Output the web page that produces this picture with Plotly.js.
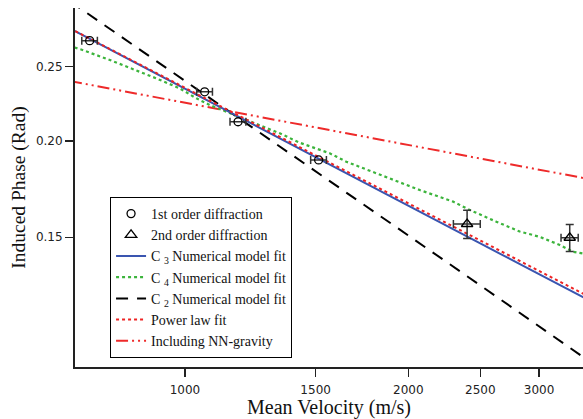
<!DOCTYPE html>
<html>
<head>
<meta charset="utf-8">
<script src="https://cdn.plot.ly/plotly-3.0.1.min.js"></script>
<style>html,body{margin:0;padding:0;background:#fff;}#chart{width:583px;height:419px;}</style>
</head>
<body>
<div id="chart"></div>
<script>
// 1st order diffraction
const v1 = [744, 1063, 1179, 1514];
const phase1 = [0.2703, 0.2319, 0.2120, 0.1891];
const v1Err = [18, 26, 29, 37];
// 2nd order diffraction
const v2 = [2400, 3300];
const phase2 = [0.1561, 0.1498];
const v2Err = [100, 88];
const phase2Err = [0.0066, 0.006];

// straight fit lines (sampled velocities)
const vLine = [700, 1000, 1500, 2000, 2500, 3000, 3500];
const c3Fit = [0.2803, 0.2339, 0.1906, 0.1649, 0.1473, 0.1343, 0.1243];
const c2Fit = [0.3041, 0.2394, 0.1827, 0.1508, 0.1299, 0.1149, 0.1036];
const powerFit = [0.2804, 0.2346, 0.1916, 0.1660, 0.1485, 0.1356, 0.1256];
const nnGravity = [0.2395, 0.2245, 0.2084, 0.1977, 0.1900, 0.1837, 0.1786];

// C4 numerical model (wiggly curve)
const vC4 = [710, 723, 792, 860, 915, 984, 1036, 1080, 1137, 1185, 1342, 1428, 1567, 1650, 1887, 2072, 2298, 2420, 2627, 2826, 3007, 3199, 3333, 3435];
const c4Fit = [0.2648, 0.2634, 0.2551, 0.2475, 0.2414, 0.2343, 0.2274, 0.2229, 0.2185, 0.2152, 0.2048, 0.1991, 0.1929, 0.1881, 0.1789, 0.1728, 0.1669, 0.1628, 0.1572, 0.1526, 0.1502, 0.1466, 0.1436, 0.1429];

const xTicks = [1000, 1500, 2000, 2500, 3000];
const xTickText = ['1000', '1500', '2000', '2500', '3000'];
const yTicks = [0.15, 0.20, 0.25];
const yTickText = ['0.15', '0.20', '0.25'];

const serif = 'Liberation Serif, Times New Roman, serif';
const sans = 'DejaVu Sans, sans-serif';

const traces = [
  {x: vLine, y: nnGravity, mode: 'lines', name: 'Including NN-gravity', legendrank: 7,
   line: {color: '#ee2a2a', width: 2, dash: '12px,4px,2px,4px,2px,4px'}},
  {x: vC4, y: c4Fit, mode: 'lines', name: 'C <sub>4</sub> Numerical model fit', legendrank: 4,
   line: {color: '#3cb43c', width: 2.2, dash: '3px,3px'}},
  {x: vLine, y: c2Fit, mode: 'lines', name: 'C <sub>2</sub> Numerical model fit', legendrank: 5,
   line: {color: '#000000', width: 2, dash: '12px,9px'}},
  {x: vLine, y: c3Fit, mode: 'lines', name: 'C <sub>3</sub> Numerical model fit', legendrank: 3,
   line: {color: '#3a55b0', width: 2}},
  {x: vLine, y: powerFit, mode: 'lines', name: 'Power law fit', legendrank: 6,
   line: {color: '#ee2222', width: 2, dash: '3px,3px'}},
  {x: v1, y: phase1, mode: 'markers', name: '1st order diffraction', legendrank: 1,
   marker: {symbol: 'circle-open', size: 8, color: '#000', line: {width: 1.3, color: '#000'}},
   error_x: {type: 'data', array: v1Err, visible: true, color: '#333', thickness: 1.5, width: 4}},
  {x: v2, y: phase2, mode: 'markers', name: '2nd order diffraction', legendrank: 2,
   marker: {symbol: 'triangle-up-open', size: 10, color: '#000', line: {width: 1.3, color: '#000'}},
   error_x: {type: 'data', array: v2Err, visible: true, color: '#333', thickness: 1.5, width: 4},
   error_y: {type: 'data', array: phase2Err, visible: true, color: '#333', thickness: 1.5, width: 4}}
];

const layout = {
  width: 583, height: 419,
  margin: {l: 75, r: 0, t: 8, b: 52},
  paper_bgcolor: '#fff', plot_bgcolor: '#fff',
  showlegend: true,
  legend: {x: 0.069, y: 0.4735, xanchor: 'left', yanchor: 'top',
           bgcolor: '#fff', bordercolor: '#000', borderwidth: 1,
           font: {family: serif, size: 14, color: '#111'}, tracegroupgap: 0},
  xaxis: {type: 'log', range: [2.8518, 3.5364], tickvals: xTicks, ticktext: xTickText,
          showgrid: false, zeroline: false, showline: true, linecolor: '#222', linewidth: 2,
          ticks: 'outside', ticklen: 8, tickwidth: 1.5, tickcolor: '#222', ticklabelstandoff: 3,
          tickfont: {family: sans, size: 12, color: '#222'},
          title: {text: 'Mean Velocity (m/s)', font: {family: serif, size: 20, color: '#111'}, standoff: 3}},
  yaxis: {type: 'log', range: [-0.9926, -0.5257], tickvals: yTicks, ticktext: yTickText,
          showgrid: false, zeroline: false, showline: true, linecolor: '#222', linewidth: 2,
          ticks: 'outside', ticklen: 8, tickwidth: 1.5, tickcolor: '#222',
          tickfont: {family: sans, size: 12, color: '#222'},
          title: {text: 'Induced Phase (Rad)', font: {family: serif, size: 19.5, color: '#111'}, standoff: 5}}
};

Plotly.newPlot('chart', traces, layout, {displayModeBar: false, staticPlot: true});
</script>
</body>
</html>
